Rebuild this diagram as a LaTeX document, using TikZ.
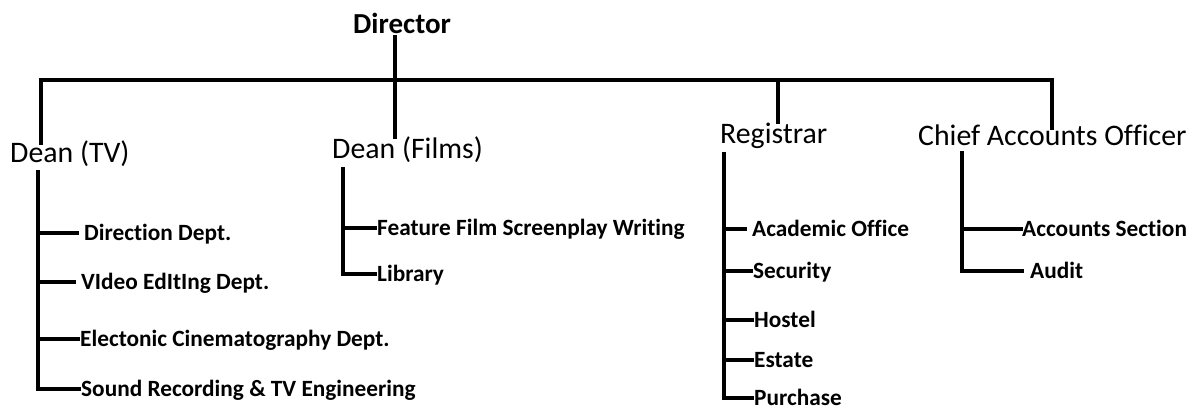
\documentclass[tikz,border=0pt]{standalone}
\usepackage{fontspec}
\setmainfont{Carlito}[Ligatures={NoCommon}]
\begin{document}
\begin{tikzpicture}[x=1pt,y=-1pt,
  line cap=rect, line join=miter,
  conn/.style={draw=black, line width=3.2pt},
  bus/.style={draw=black, line width=3.8pt},
  sub/.style={font=\fontsize{23.3}{25}\selectfont\bfseries, anchor=base west, inner sep=0pt, text height=15pt, text depth=1pt},
  head/.style={font=\fontsize{29.8}{32}\selectfont, anchor=base west, inner sep=0pt},
  top/.style={font=\fontsize{29}{32}\selectfont\bfseries, anchor=base west, inner sep=0pt}]
\useasboundingbox (0,0) rectangle (1199,410);

% heads
\node[top]  (director) at (353,33)  {Director};
\node[head] (tv)       at (10,162)  {Dean (TV)};
\node[head] (films)    at (332,158) {Dean (Films)};
\node[head] (reg)      at (720,143) {Registrar};
\node[head] (cao)      at (918,145) {Chief Accounts Officer};

% sub units
\node[sub] (dir)   at (84,240)  {Direction Dept.};
\node[sub] (vid)   at (81,289)  {VIdeo EdItIng Dept.};
\node[sub] (ele)   at (80,346)  {Electonic Cinematography Dept.};
\node[sub] (snd)   at (81,396)  {Sound Recording \& TV Engineering};
\node[sub] (feat)  at (377,235) {Feature Film Screenplay Writing};
\node[sub] (lib)   at (377,281) {Library};
\node[sub] (acad)  at (752,236) {Academic Office};
\node[sub] (sec)   at (753,278) {Security};
\node[sub] (hos)   at (754,327) {Hostel};
\node[sub] (est)   at (754,367) {Estate};
\node[sub] (pur)   at (754,405) {Purchase};
\node[sub] (accs)  at (1022,236) {Accounts Section};
\node[sub] (aud)   at (1030,278) {Audit};

% coordinates
\coordinate (dirB)  at (395,37);
\coordinate (busL)  at (41,80);
\coordinate (busR)  at (1052,80);
\coordinate (tvT)   at (41,143);
\coordinate (filmT) at (395,137);
\coordinate (regT)  at (778,122);
\coordinate (caoT)  at (1052,128);

% top level
\draw[bus] (tvT) -- (busL) -- (busR) -- (caoT);
\draw[conn] (dirB) -- (filmT);
\draw[bus] (busL -| regT) -- (regT);

% Dean (TV)
\coordinate (tvS) at (38,172);
\draw[conn] (tvS) |- ([xshift=-2pt]snd.west);
\draw[conn] (tvS |- dir.west) -- ([xshift=-7pt]dir.west);
\draw[conn] (tvS |- vid.west) -- ([xshift=-7pt]vid.west);
\draw[conn] (tvS |- ele.west) -- ([xshift=-2pt]ele.west);

% Dean (Films)
\coordinate (filmS) at (343,169);
\draw[conn] (filmS) |- ([xshift=-2pt]lib.west);
\draw[conn] (filmS |- feat.west) -- ([xshift=-2pt]feat.west);

% Registrar
\coordinate (regS) at (724,154);
\draw[conn] (regS) |- ([xshift=-2pt]pur.west);
\draw[conn] (regS |- acad.west) -- ([xshift=-7pt]acad.west);
\draw[conn] (regS |- sec.west) -- ([xshift=-2pt]sec.west);
\draw[conn] (regS |- hos.west) -- ([xshift=-2pt]hos.west);
\draw[conn] (regS |- est.west) -- ([xshift=-2pt]est.west);

% Chief Accounts Officer
\coordinate (caoS) at (962,153);
\draw[conn] (caoS) |- ([xshift=-8pt]aud.west);
\draw[conn] (caoS |- accs.west) -- ([xshift=-1pt]accs.west);
\end{tikzpicture}
\end{document}
